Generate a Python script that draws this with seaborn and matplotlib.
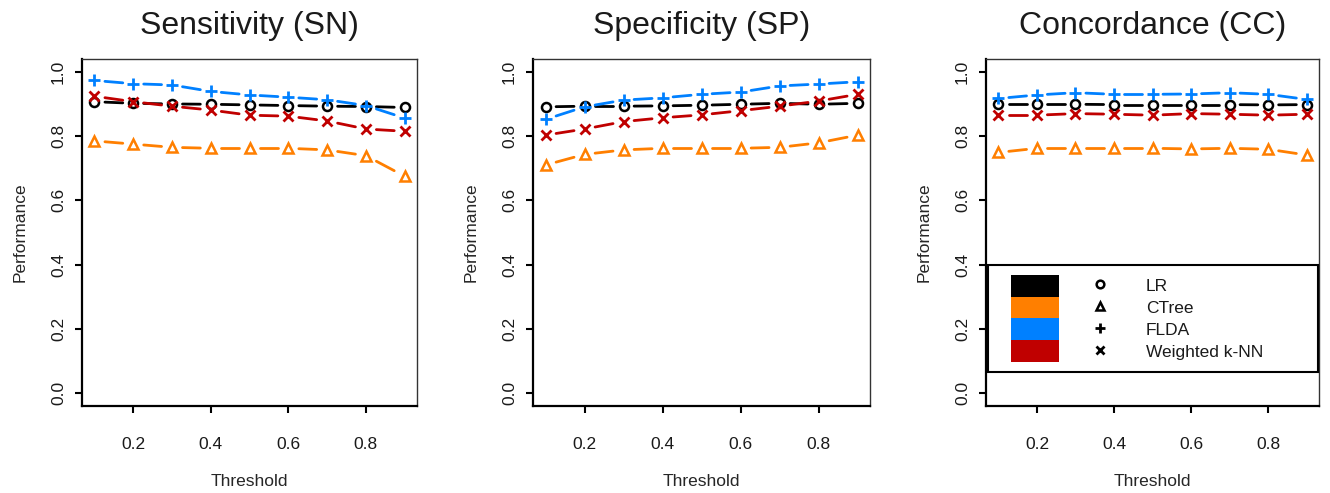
import numpy as np
import pandas as pd
import matplotlib
matplotlib.use("Agg")
import matplotlib.pyplot as plt
import seaborn as sns
from matplotlib.legend_handler import HandlerBase
from matplotlib.lines import Line2D
from matplotlib.patches import Rectangle

# Data
threshold = [0.1, 0.2, 0.3, 0.4, 0.5, 0.6, 0.7, 0.8, 0.9]
methods = ["LR", "CTree", "FLDA", "Weighted k-NN"]

sn_lr = [0.907, 0.902, 0.900, 0.899, 0.897, 0.895, 0.893, 0.892, 0.889]
sn_ctree = [0.785, 0.775, 0.765, 0.762, 0.762, 0.762, 0.757, 0.739, 0.675]
sn_flda = [0.973, 0.963, 0.959, 0.939, 0.928, 0.921, 0.913, 0.895, 0.856]
sn_knn = [0.924, 0.907, 0.893, 0.881, 0.865, 0.862, 0.847, 0.822, 0.815]

sp_lr = [0.891, 0.893, 0.893, 0.894, 0.896, 0.899, 0.902, 0.899, 0.902]
sp_ctree = [0.710, 0.743, 0.757, 0.762, 0.762, 0.762, 0.765, 0.779, 0.803]
sp_flda = [0.852, 0.891, 0.912, 0.919, 0.930, 0.937, 0.956, 0.962, 0.969]
sp_knn = [0.803, 0.822, 0.845, 0.857, 0.866, 0.879, 0.893, 0.909, 0.930]

cc_lr = [0.899, 0.899, 0.899, 0.898, 0.898, 0.898, 0.898, 0.897, 0.898]
cc_ctree = [0.749, 0.762, 0.762, 0.762, 0.762, 0.760, 0.762, 0.759, 0.741]
cc_flda = [0.917, 0.928, 0.935, 0.930, 0.930, 0.931, 0.935, 0.930, 0.914]
cc_knn = [0.865, 0.865, 0.870, 0.868, 0.865, 0.870, 0.868, 0.865, 0.868]

panels = [
    ("Sensitivity (SN)", [sn_lr, sn_ctree, sn_flda, sn_knn]),
    ("Specificity (SP)", [sp_lr, sp_ctree, sp_flda, sp_knn]),
    ("Concordance (CC)", [cc_lr, cc_ctree, cc_flda, cc_knn]),
]

palette = {"LR": "#000000", "CTree": "#FF7F00",
           "FLDA": "#0080FF", "Weighted k-NN": "#C00000"}
marker_style = {
    "LR": dict(marker="o", ms=6.5, mew=1.8, mfc="none"),
    "CTree": dict(marker="^", ms=7, mew=1.8, mfc="none"),
    "FLDA": dict(marker="+", ms=8.5, mew=2.0),
    "Weighted k-NN": dict(marker="x", ms=7, mew=2.0),
}
GAP = 0.27  # type="b" style gap around points, as fraction of segment


def gapped_segments(x, y, method):
    """Split a series into shortened segments so points sit in gaps."""
    x = np.asarray(x, float)
    y = np.asarray(y, float)
    rows = []
    for i in range(len(x) - 1):
        dx, dy = x[i + 1] - x[i], y[i + 1] - y[i]
        seg = f"{method}_{i}"
        rows.append((method, seg, x[i] + GAP * dx, y[i] + GAP * dy))
        rows.append((method, seg, x[i + 1] - GAP * dx, y[i + 1] - GAP * dy))
    return rows


class FillPointHandler(HandlerBase):
    """R-style legend entry: colour box, then black point symbol."""

    def create_artists(self, legend, orig_handle, xdescent, ydescent,
                       width, height, fontsize, trans):
        color = orig_handle.get_color()
        rect = Rectangle((-xdescent + 0.099 * width, -ydescent),
                         0.357 * width, height,
                         facecolor=color, edgecolor="none", transform=trans)
        mk = Line2D([-xdescent + 0.761 * width], [-ydescent + height * 0.55],
                    linestyle="none", color="black",
                    marker=orig_handle.get_marker(),
                    ms=orig_handle.get_markersize() * 0.85,
                    mew=orig_handle.get_markeredgewidth(),
                    mfc="none", transform=trans)
        return [rect, mk]


sns.set_theme(style="white")
plt.rcParams["font.family"] = ["Liberation Sans", "DejaVu Sans"]
plt.rcParams["text.color"] = "#1a1a1a"

fig = plt.figure(figsize=(13.3, 4.93), dpi=100)
lefts = [0.0617, 0.4008, 0.7414]
widths = [0.2519, 0.2534, 0.2504]

for k, (title, series) in enumerate(panels):
    ax = fig.add_axes([lefts[k], 0.1765, widths[k], 0.7039])

    seg_rows = []
    for m, vals in zip(methods, series):
        seg_rows += gapped_segments(threshold, vals, m)
    seg_df = pd.DataFrame(seg_rows, columns=["method", "seg", "x", "y"])
    sns.lineplot(data=seg_df, x="x", y="y", hue="method", units="seg",
                 estimator=None, palette=palette, linewidth=2.0,
                 legend=False, ax=ax)

    for m, vals in zip(methods, series):
        ax.plot(threshold, vals, linestyle="none", color=palette[m],
                mec=palette[m], **marker_style[m])

    ax.set_xlim(0.068, 0.932)
    ax.set_ylim(-0.04, 1.04)
    ax.set_xticks([0.2, 0.4, 0.6, 0.8])
    ax.set_xticklabels(["0.2", "0.4", "0.6", "0.8"])
    ax.set_yticks([0.0, 0.2, 0.4, 0.6, 0.8, 1.0])
    ax.set_yticklabels(["0.0", "0.2", "0.4", "0.6", "0.8", "1.0"],
                       rotation=90, va="center")
    ax.tick_params(axis="both", direction="out", length=5, width=1.5,
                   bottom=True, left=True, top=False, right=False,
                   colors="black", labelsize=12.5, labelcolor="#1a1a1a")
    ax.tick_params(axis="x", pad=17)
    ax.tick_params(axis="y", pad=6.6)

    ax.set_xlabel("Threshold", fontsize=12.5, labelpad=16)
    ax.set_ylabel("Performance", fontsize=12.5, labelpad=17)
    ax.set_title(title, fontsize=23, pad=18)

    for side in ["left", "bottom"]:
        ax.spines[side].set_linewidth(1.6)
        ax.spines[side].set_color("black")
    for side in ["top", "right"]:
        ax.spines[side].set_linewidth(1.0)
        ax.spines[side].set_color("#333333")

    if k == 2:
        handles = [Line2D([], [], color=palette[m], marker=marker_style[m]["marker"],
                          ms=marker_style[m]["ms"], mew=marker_style[m]["mew"])
                   for m in methods]
        leg = ax.legend(handles, methods, handler_map={Line2D: FillPointHandler()},
                        loc="upper left", bbox_to_anchor=(0.006, 0.406, 0.991, 0),
                        mode="expand", borderaxespad=0, fontsize=12.5,
                        handlelength=7.74, handleheight=1.56, labelspacing=0,
                        handletextpad=0.8, borderpad=0.55,
                        frameon=True, fancybox=False, framealpha=1)
        leg.get_frame().set_edgecolor("black")
        leg.get_frame().set_linewidth(1.5)

fig.savefig("out.png", dpi=100)
